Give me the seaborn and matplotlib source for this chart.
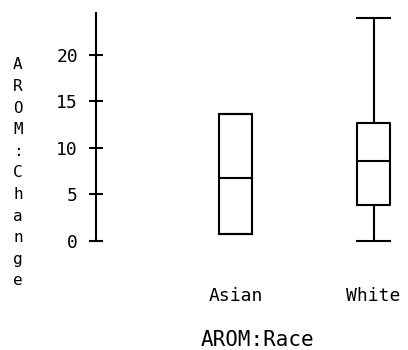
import matplotlib
matplotlib.use("Agg")
import matplotlib.pyplot as plt
import seaborn as sns
import pandas as pd

# values
races = ["Asian", "White"]
asian_change = [0.7, 0.7, 6.8, 13.7, 13.7]
white_change = [0, 2, 3.85, 6, 8.6, 10, 12.7, 17, 24]
y_ticks = [0, 5, 10, 15, 20]

df = pd.DataFrame({
    "AROM:Race": ["Asian"] * len(asian_change) + ["White"] * len(white_change),
    "AROM:Change": asian_change + white_change,
})

plt.rcParams["font.family"] = ["DejaVu Sans Mono"]

fig = plt.figure(figsize=(4.08, 3.5), dpi=100)
ax = fig.add_axes([0.2353, 0.2991, 0.7647, 0.6629])

sns.boxplot(data=df, x="AROM:Race", y="AROM:Change", order=races, ax=ax,
            fill=False, color="black", linewidth=1.5, width=0.24,
            whis=(0, 100), capwidths=0.24)

ax.set_xlim(-1.011, 1.25)
ax.set_ylim(-0.5, 24.5)
ax.set_yticks(y_ticks)
for side in ["top", "right", "bottom"]:
    ax.spines[side].set_visible(False)
ax.spines["left"].set_bounds(0, 24.5)
ax.spines["left"].set_linewidth(1.5)
ax.spines["left"].set_color("black")
ax.tick_params(axis="y", direction="inout", length=10, width=1.5,
               colors="black", labelsize=13, pad=8)
ax.tick_params(axis="x", length=0, labelsize=13, labelcolor="black", pad=30)

ax.set_xlabel("AROM:Race", fontsize=15, color="black", va="top")
ax.xaxis.set_label_coords(0.519, -0.365)
ax.set_ylabel("\n".join("AROM:Change"), rotation=0, fontsize=11.5,
              color="black", ha="center", va="center", linespacing=1.55)
ax.yaxis.set_label_coords(-0.25, 0.312)

fig.savefig("out.png", dpi=100)
